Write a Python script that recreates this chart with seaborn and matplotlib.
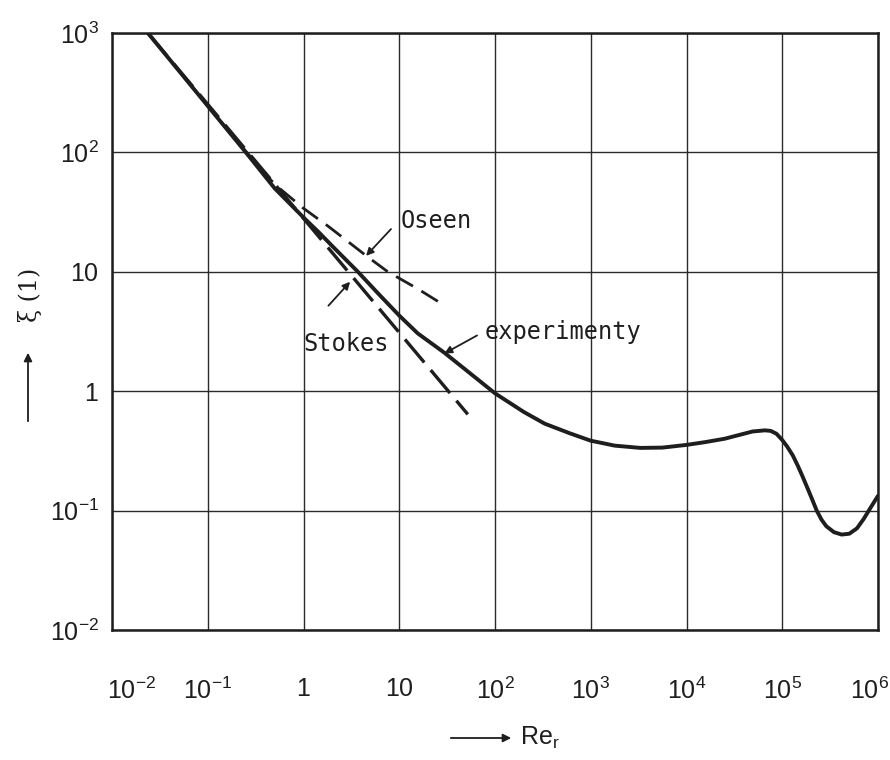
import numpy as np
import pandas as pd
import seaborn as sns
import matplotlib
matplotlib.use("Agg")
import matplotlib.pyplot as plt
from matplotlib import font_manager, transforms
from matplotlib.ticker import FixedLocator, NullLocator, FixedFormatter

# ---------------- data ----------------
re_exp = [0.0237, 0.1, 0.25, 0.5, 1.0, 1.43, 2.0, 3.7, 6.0, 10.0, 15.6, 29.6, 50.0,
          100.0, 200.0, 330.0, 600.0, 1.0e3, 1.78e3, 3.3e3, 5.6e3, 1.0e4, 1.58e4,
          2.51e4, 3.55e4, 4.9e4, 6.6e4, 7.59e4, 8.71e4, 1.0e5, 1.122e5, 1.288e5,
          1.445e5, 1.622e5, 1.862e5, 2.089e5, 2.291e5, 2.57e5, 2.884e5, 3.467e5,
          4.169e5, 5.012e5, 6.026e5, 7.079e5, 8.318e5, 1.0e6]
xi_exp = [1000, 245, 100, 50, 28.5, 21.6, 16.4, 10.0, 6.6, 4.3, 3.05, 2.1, 1.5,
          0.96, 0.67, 0.535, 0.445, 0.385, 0.35, 0.335, 0.337, 0.355, 0.375,
          0.40, 0.43, 0.46, 0.47, 0.465, 0.44, 0.39, 0.345, 0.29,
          0.24, 0.195, 0.15, 0.12, 0.10, 0.084, 0.074, 0.066,
          0.063, 0.064, 0.071, 0.085, 0.105, 0.133]

re_stokes = [0.0237, 1.0, 52.0]
xi_stokes = [1000, 28.0, 0.64]

re_oseen = [0.0237, 0.1, 0.25, 0.5, 1.0, 1.82, 4.7, 7.6, 15.6, 30.0]
xi_oseen = [1000, 245, 102, 54, 34, 24, 13.3, 10.0, 7.2, 5.2]

x_ticks = [1e-2, 1e-1, 1, 10, 1e2, 1e3, 1e4, 1e5, 1e6]
x_tick_labels = [r"$10^{-2}$", r"$10^{-1}$", r"$1$", r"$10$", r"$10^{2}$",
                 r"$10^{3}$", r"$10^{4}$", r"$10^{5}$", r"$10^{6}$"]
y_ticks = [1e-2, 1e-1, 1, 10, 1e2, 1e3]
y_tick_labels = [r"$10^{-2}$", r"$10^{-1}$", r"$1$", r"$10$", r"$10^{2}$", r"$10^{3}$"]

labels = {"oseen": "Oseen", "stokes": "Stokes", "exp": "experimenty"}

# ---------------- style ----------------
sns.set_style("white")
avail = {f.name for f in font_manager.fontManager.ttflist}
if "Liberation Sans Narrow" in avail:
    tick_font = "Liberation Sans Narrow"
elif "Liberation Sans" in avail:
    tick_font = "Liberation Sans"
else:
    tick_font = "DejaVu Sans"
plt.rcParams["font.family"] = [tick_font, "DejaVu Sans"]
plt.rcParams["mathtext.fontset"] = "custom"
plt.rcParams["mathtext.rm"] = tick_font
plt.rcParams["mathtext.it"] = tick_font
plt.rcParams["mathtext.bf"] = tick_font
plt.rcParams["mathtext.sf"] = tick_font

ink = "#1e1e1e"
fig = plt.figure(figsize=(8.9, 7.6), dpi=100)
ax = fig.add_axes([112 / 890, 1 - 630 / 760, (878 - 112) / 890, (630 - 33) / 760])

df_exp = pd.DataFrame({"Re": re_exp, "xi": xi_exp})
df_st = pd.DataFrame({"Re": re_stokes, "xi": xi_stokes})
df_os = pd.DataFrame({"Re": re_oseen, "xi": xi_oseen})

sns.lineplot(data=df_os, x="Re", y="xi", ax=ax, color=ink, lw=2.0,
             linestyle=(0, (7, 3.5)), sort=False, estimator=None)
sns.lineplot(data=df_st, x="Re", y="xi", ax=ax, color=ink, lw=2.4,
             linestyle=(0, (9, 3)), sort=False, estimator=None)
sns.lineplot(data=df_exp, x="Re", y="xi", ax=ax, color=ink, lw=2.8,
             sort=False, estimator=None)

ax.set_xscale("log")
ax.set_yscale("log")
ax.set_xlim(1e-2, 1e6)
ax.set_ylim(1e-2, 1e3)
ax.xaxis.set_major_locator(FixedLocator(x_ticks))
ax.xaxis.set_major_formatter(FixedFormatter(x_tick_labels))
ax.yaxis.set_major_locator(FixedLocator(y_ticks))
ax.yaxis.set_major_formatter(FixedFormatter(y_tick_labels))
ax.xaxis.set_minor_locator(NullLocator())
ax.yaxis.set_minor_locator(NullLocator())
ax.set_xlabel("")
ax.set_ylabel("")

ax.grid(True, which="major", color="#2a2a2a", lw=1.0)
for side, sp in ax.spines.items():
    sp.set_visible(True)
    sp.set_color(ink)
    sp.set_linewidth(1.8)

ax.tick_params(axis="x", length=0, pad=34, labelsize=18, colors=ink)
ax.tick_params(axis="y", length=6.5, width=1.3, direction="out", pad=3,
               labelsize=18, colors=ink)

# first x label sits a little right of its grid line, last one a little left
lbls = ax.get_xticklabels()
off_first = transforms.ScaledTranslation(20 / 100, 0, fig.dpi_scale_trans)
lbls[0].set_transform(lbls[0].get_transform() + off_first)
off_last = transforms.ScaledTranslation(-8 / 100, 0, fig.dpi_scale_trans)
lbls[-1].set_transform(lbls[-1].get_transform() + off_last)

# ---------------- annotations ----------------
mono = "DejaVu Sans Mono"
arrow_kw = dict(arrowstyle="-|>", color=ink, lw=1.3, mutation_scale=11,
                shrinkA=0, shrinkB=0)

ax.text(10.4, 26.6, labels["oseen"], family=mono, fontsize=17, color=ink,
        ha="left", va="center")
ax.annotate("", xy=(4.5, 13.6), xytext=(8.2, 22.8), arrowprops=arrow_kw)

ax.text(1.0, 2.5, labels["stokes"], family=mono, fontsize=17, color=ink,
        ha="left", va="center")
ax.annotate("", xy=(3.07, 8.25), xytext=(1.82, 5.2), arrowprops=arrow_kw)

ax.text(77, 3.16, labels["exp"], family=mono, fontsize=17, color=ink,
        ha="left", va="center")
ax.annotate("", xy=(29.6, 2.07), xytext=(65, 2.93), arrowprops=arrow_kw)

# axis titles with arrows
fig.text(30 / 890, 1 - 295 / 760, "ξ (1)", rotation=90, ha="center", va="center",
         fontsize=17, color=ink, family=["DejaVu Serif", "DejaVu Sans"])
fig.patches.append(matplotlib.patches.FancyArrowPatch(
    (28 / 890, 1 - 424 / 760), (28 / 890, 1 - 350 / 760),
    transform=fig.transFigure, arrowstyle="-|>", mutation_scale=12,
    color=ink, lw=1.3))

fig.patches.append(matplotlib.patches.FancyArrowPatch(
    (448 / 890, 1 - 738 / 760), (514 / 890, 1 - 738 / 760),
    transform=fig.transFigure, arrowstyle="-|>", mutation_scale=12,
    color=ink, lw=1.3))
fig.text(520 / 890, 1 - 738 / 760, r"Re$_{\rm r}$", ha="left", va="center",
         fontsize=18, color=ink)

fig.savefig("out.png", dpi=100, facecolor="white")
